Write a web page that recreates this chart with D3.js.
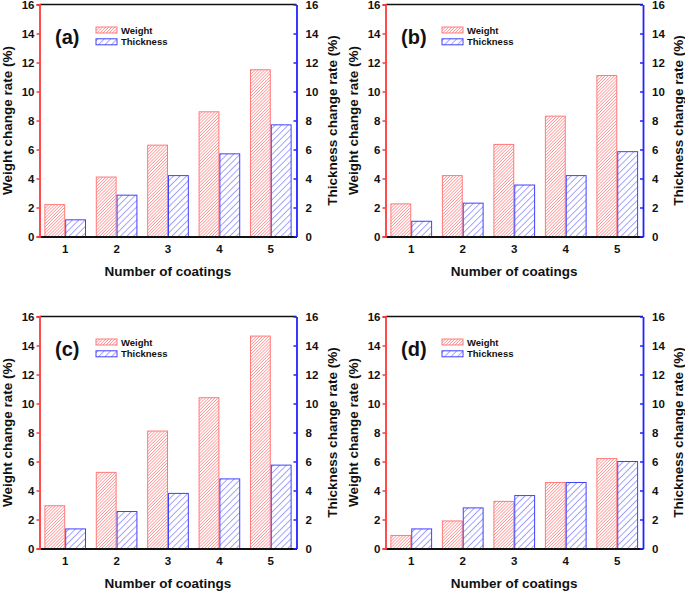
<!DOCTYPE html>
<html><head><meta charset="utf-8">
<script src="https://cdn.jsdelivr.net/npm/d3@7"></script>
<style>
html,body{margin:0;padding:0;background:#fff;}
svg{display:block;font-family:"Liberation Sans",Arial,sans-serif;font-weight:bold;}
</style></head><body>
<svg id="c" width="685" height="591"></svg>
<script>
const coatings = ["1","2","3","4","5"];
const seriesNames = ["Weight","Thickness"];
const yTicks = [0,2,4,6,8,10,12,14,16];
const panelLabels = ["(a)","(b)","(c)","(d)"];
const weightA = [2.2, 4.1, 6.3, 8.6, 11.5];
const thickA  = [1.15, 2.85, 4.2, 5.7, 7.7];
const weightB = [2.25, 4.2, 6.35, 8.3, 11.1];
const thickB  = [1.05, 2.3, 3.55, 4.2, 5.85];
const weightC = [2.95, 5.25, 8.1, 10.4, 14.65];
const thickC  = [1.35, 2.55, 3.8, 4.8, 5.75];
const weightD = [0.9, 1.9, 3.25, 4.55, 6.2];
const thickD  = [1.35, 2.8, 3.65, 4.55, 6.0];

const svg = d3.select("#c");
const defs = svg.append("defs");
function hatch(id, spacing, color, sw){
  const p = defs.append("pattern").attr("id", id).attr("patternUnits","userSpaceOnUse")
    .attr("width", spacing).attr("height", spacing).attr("patternTransform","rotate(45)");
  p.append("rect").attr("width",spacing).attr("height",spacing).attr("fill","#fff");
  p.append("line").attr("x1",0).attr("y1",0).attr("x2",0).attr("y2",spacing)
    .attr("stroke",color).attr("stroke-width",sw);
}
hatch("hw", 2.2, "#ff5c5c", 1.0);
hatch("ht", 4.6, "#4a4aff", 1.0);

const RED = "#ff3a3a", BLUE = "#2222ff";
const fills = {Weight:"url(#hw)", Thickness:"url(#ht)"};
const strokes = {Weight:"#ff7a7a", Thickness:"#4040ff"};

const panels = [
  {label:panelLabels[0], w:weightA, t:thickA, l:39.5, r:296.5, top:4.5, bot:236.5},
  {label:panelLabels[1], w:weightB, t:thickB, l:385.5, r:643, top:4.5, bot:236.5},
  {label:panelLabels[2], w:weightC, t:thickC, l:39.5, r:296.5, top:316.5, bot:548.5},
  {label:panelLabels[3], w:weightD, t:thickD, l:385.5, r:643, top:316.5, bot:548.5},
];

panels.forEach(P => {
  const g = svg.append("g");
  const x = d3.scaleBand().domain(coatings).range([P.l, P.r]).paddingInner(0.19).paddingOuter(0.095);
  const xs = d3.scaleBand().domain(seriesNames).range([0, x.bandwidth()]);
  const yL = d3.scaleLinear().domain([0,16]).range([P.bot, P.top]);
  const yR = d3.scaleLinear().domain([0,16]).range([P.bot, P.top]);

  const rows = coatings.map((c,i) => ({c, Weight:P.w[i], Thickness:P.t[i]}));
  const grp = g.selectAll("g.grp").data(rows).join("g").attr("transform", d => `translate(${x(d.c)},0)`);
  grp.selectAll("rect").data(d => seriesNames.map(s => ({s, v:d[s]}))).join("rect")
    .attr("x", d => xs(d.s)+0.5)
    .attr("width", xs.bandwidth()-1)
    .attr("y", d => (d.s==="Weight" ? yL(d.v) : yR(d.v)))
    .attr("height", d => P.bot - (d.s==="Weight" ? yL(d.v) : yR(d.v)))
    .attr("fill", d => fills[d.s]).attr("stroke", d => strokes[d.s]).attr("stroke-width",1);

  g.append("line").attr("x1",P.l).attr("x2",P.r).attr("y1",P.top).attr("y2",P.top)
    .attr("stroke","#111").attr("stroke-width",1.6);
  const xAx = g.append("g").attr("transform",`translate(0,${P.bot})`)
    .call(d3.axisBottom(x).tickSize(0).tickPadding(8));
  xAx.select(".domain").attr("stroke","#111").attr("stroke-width",2);
  xAx.selectAll("text").attr("font-size","11.5px").attr("font-family","Liberation Sans, Arial").attr("font-weight","bold").attr("fill","#111");

  const lAx = g.append("g").attr("transform",`translate(${P.l},0)`)
    .call(d3.axisLeft(yL).tickValues(yTicks).tickSize(3).tickPadding(2));
  lAx.select(".domain").attr("stroke",RED).attr("stroke-width",1.8);
  lAx.selectAll(".tick line").attr("stroke",RED).attr("stroke-width",1.5);
  lAx.selectAll("text").attr("font-size","11.5px").attr("font-family","Liberation Sans, Arial").attr("font-weight","bold").attr("fill","#111");

  const rAx = g.append("g").attr("transform",`translate(${P.r},0)`)
    .call(d3.axisRight(yR).tickValues(yTicks).tickSizeInner(-3).tickSizeOuter(0).tickPadding(9));
  rAx.select(".domain").attr("stroke",BLUE).attr("stroke-width",1.8);
  rAx.selectAll(".tick line").attr("stroke",BLUE).attr("stroke-width",1.5);
  rAx.selectAll("text").attr("font-size","11.5px").attr("font-family","Liberation Sans, Arial").attr("font-weight","bold").attr("fill","#111");

  const cy = (P.top+P.bot)/2;
  g.append("text").attr("transform",`translate(${P.l-32},${cy}) rotate(-90)`)
    .attr("text-anchor","middle").attr("dominant-baseline","central")
    .attr("font-size","13.5px").attr("fill","#111").text("Weight change rate (%)");
  g.append("text").attr("transform",`translate(${P.r+35.5},${cy}) rotate(-90)`)
    .attr("text-anchor","middle").attr("dominant-baseline","central")
    .attr("font-size","13.5px").attr("fill","#111").text("Thickness change rate (%)");
  g.append("text").attr("x",(P.l+P.r)/2).attr("y",P.bot+39)
    .attr("text-anchor","middle").attr("font-size","13.5px").attr("fill","#111").text("Number of coatings");

  g.append("text").attr("x",P.l+15.5).attr("y",P.top+39).attr("font-size","20px").attr("fill","#111").text(P.label);

  const lg = g.append("g").attr("transform",`translate(${P.l+56.5},${P.top+22.5})`);
  seriesNames.forEach((s,i) => {
    lg.append("rect").attr("x",0).attr("y",i*11.8).attr("width",21).attr("height",6)
      .attr("fill",fills[s]).attr("stroke",strokes[s]).attr("stroke-width",1);
    lg.append("text").attr("x",25).attr("y",i*11.8+6.5).attr("font-size","9.5px").attr("fill","#111").text(s);
  });
});
</script>
</body></html>
